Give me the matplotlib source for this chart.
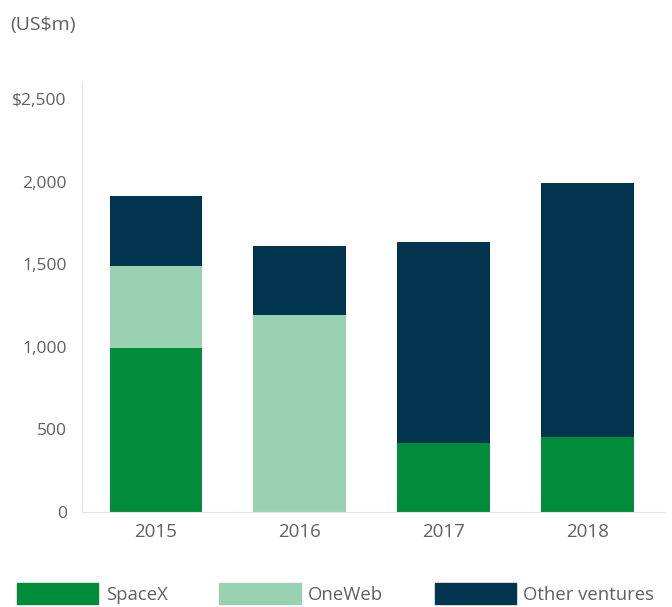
import numpy as np
import matplotlib.pyplot as plt
from matplotlib.patches import Patch

# Investment by year (US$m)
years = ["2015", "2016", "2017", "2018"]
spacex = [990, 0, 420, 455]
oneweb = [500, 1190, 0, 0]
other = [420, 420, 1215, 1535]

colors = {"SpaceX": "#008C3A", "OneWeb": "#9AD1B3", "Other ventures": "#00344F"}
text_color = "#606060"

plt.rcParams['font.family'] = ['Open Sans', 'DejaVu Sans']

fig = plt.figure(figsize=(6.72, 6.07), dpi=100)
ax = fig.add_axes([0.122, 0.1565, 0.868, 0.7076])

x = np.arange(len(years))
w = 0.645
spacex = np.array(spacex)
oneweb = np.array(oneweb)
other = np.array(other)

ax.bar(x, spacex, w, color=colors["SpaceX"])
ax.bar(x, oneweb, w, bottom=spacex, color=colors["OneWeb"])
ax.bar(x, other, w, bottom=spacex + oneweb, color=colors["Other ventures"])

ax.set_xlim(-0.514, 3.54)
ax.set_ylim(0, 2600)
ax.set_yticks([0, 500, 1000, 1500, 2000, 2500])
ax.set_yticklabels(["0", "500", "1,000", "1,500", "2,000", "$2,500"])
ax.set_xticks(x)
ax.set_xticklabels(years)
ax.tick_params(length=0, colors=text_color)
ax.tick_params(axis='y', pad=11, labelsize=12.5)
ax.tick_params(axis='x', pad=8, labelsize=13.5)

for s in ["top", "right"]:
    ax.spines[s].set_visible(False)
ax.spines["left"].set_color("#e3e3e3")
ax.spines["bottom"].set_color("#e3e3e3")

fig.text(0.015, 0.959, "(US$m)", fontsize=14, color=text_color, va="center")

handles = [Patch(color=c, label=k) for k, c in colors.items()]
leg = fig.legend(handles=handles, loc="center left", bbox_to_anchor=(0.0145, 0.022),
                 ncol=3, frameon=False, fontsize=13.3, handlelength=4.4,
                 handleheight=1.35, handletextpad=0.4, columnspacing=2.8,
                 borderaxespad=0)
for t in leg.get_texts():
    t.set_color(text_color)

fig.savefig("out.png", dpi=100)
